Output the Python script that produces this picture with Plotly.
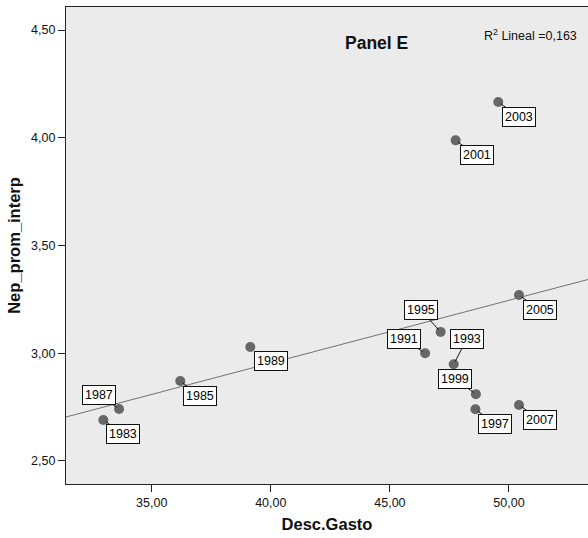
import numpy as np
import plotly.graph_objects as go

years = ["1983", "1987", "1985", "1989", "1991", "1995", "1993", "1999", "1997",
         "2007", "2005", "2001", "2003"]
desc_gasto = [32.97, 33.63, 36.20, 39.14, 46.48, 47.13, 47.68, 48.61, 48.59,
              50.42, 50.42, 47.76, 49.55]
nep_prom = [2.69, 2.741, 2.871, 3.029, 3.00, 3.099, 2.949, 2.81, 2.74,
            2.76, 3.27, 3.988, 4.166]
# label offsets in pixels (dx, dy) from point to label centre
label_dx = [20, -20, 20, 21, -21, -20, 13, -21, 20, 21, 21, 21, 21]
label_dy = [14, -14, 15, 14, -14, -22, -25, -15, 15, 15, 15, 15, 15]

x_range = [31.402, 53.317]
y_range = [2.393, 4.607]

font_family = "Liberation Sans, Arial, sans-serif"

slope, intercept = np.polyfit(desc_gasto, nep_prom, 1)
fit_x = np.array(x_range)
fit_y = slope * fit_x + intercept

fig = go.Figure()
fig.add_trace(go.Scatter(x=fit_x, y=fit_y, mode="lines",
                         line=dict(color="#727272", width=1), hoverinfo="skip"))
fig.add_trace(go.Scatter(x=desc_gasto, y=nep_prom, mode="markers",
                         marker=dict(color="#676767", size=10),
                         text=years))

annotations = []
for xv, yv, t, dx, dy in zip(desc_gasto, nep_prom, years, label_dx, label_dy):
    annotations.append(dict(
        x=xv, y=yv, xref="x", yref="y", text=t, showarrow=True,
        ax=dx, ay=dy, arrowhead=0, arrowwidth=1, arrowcolor="#111111",
        standoff=3, bgcolor="white", bordercolor="#111111", borderwidth=1,
        borderpad=2, font=dict(size=12.5, color="black", family=font_family)))

annotations.append(dict(x=0.595, y=0.925, xref="paper", yref="paper",
                        text="<b>Panel E</b>", showarrow=False,
                        font=dict(size=17.5, color="#111111", family=font_family),
                        xanchor="center", yanchor="middle"))
annotations.append(dict(x=0.796, y=0.942, xref="paper", yref="paper",
                        text="R<sup>2</sup> Lineal =0,163", showarrow=False,
                        font=dict(size=12.5, color="#111111", family=font_family),
                        xanchor="left", yanchor="middle"))

fig.update_layout(
    width=588, height=538,
    margin=dict(l=66, r=0, t=7, b=54),
    paper_bgcolor="white",
    plot_bgcolor="#ebebeb",
    showlegend=False,
    separators=",.",
    font=dict(family=font_family, size=12, color="#111111"),
    annotations=annotations,
    xaxis=dict(range=x_range, tickvals=[35, 40, 45, 50], tickformat=".2f",
               showgrid=False, zeroline=False, showline=True, mirror=True,
               linecolor="#222222", linewidth=1.3, ticks="outside", ticklen=7,
               tickcolor="#222222", tickfont=dict(size=12.5),
               title=dict(text="<b>Desc.Gasto</b>", font=dict(size=16.5), standoff=9)),
    yaxis=dict(range=y_range, tickvals=[2.5, 3.0, 3.5, 4.0, 4.5], tickformat=".2f",
               showgrid=False, zeroline=False, showline=True, mirror=False,
               linecolor="#222222", linewidth=1.3, ticks="outside", ticklen=7,
               tickcolor="#222222", tickfont=dict(size=12.5),
               title=dict(text="<b>Nep_prom_interp</b>", font=dict(size=16.5), standoff=6)),
)

fig.write_html("out.html")
